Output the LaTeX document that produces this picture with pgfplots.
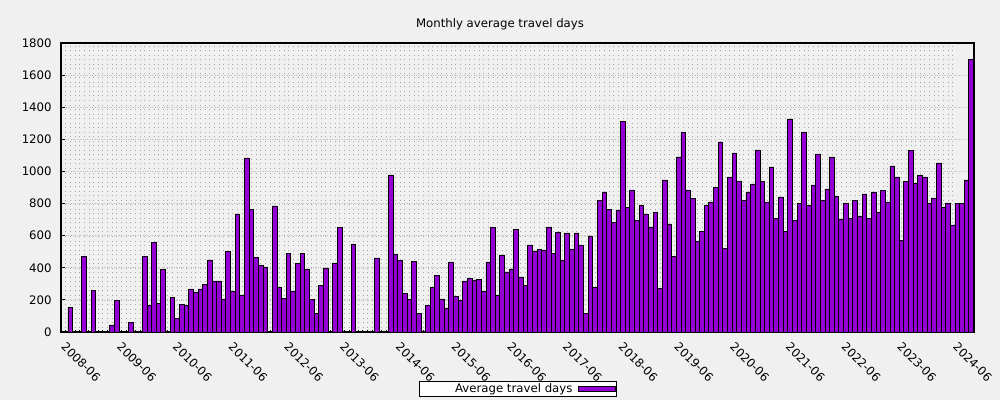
\documentclass[border=0pt]{standalone}
\usepackage{pgfplots}
\pgfplotsset{compat=1.18}
\usepackage{pgfplotstable}
\usepackage{fontspec}
\setmainfont{DejaVu Sans}
\definecolor{bgcol}{HTML}{F0F0F0}
\definecolor{barcol}{HTML}{9400D3}
\definecolor{gridcol}{HTML}{A8A8A8}

% k = months since 2008-08 (k=-2 is 2008-06)
\pgfplotstableread{
k v
0 152
1 0
2 0
3 469
4 0
5 258
6 0
7 0
8 0
9 44
10 195
11 0
12 0
13 58
14 0
15 0
16 469
17 164
18 555
19 177
20 388
21 0
22 218
23 87
24 170
25 164
26 268
27 245
28 268
29 295
30 449
31 318
32 318
33 206
34 500
35 251
36 735
37 231
38 1084
39 766
40 463
41 413
42 405
43 0
44 785
45 280
46 210
47 492
48 255
49 426
50 492
51 388
52 201
53 114
54 289
55 399
56 0
57 430
58 650
59 0
60 0
61 548
62 0
63 0
64 0
65 0
66 461
67 0
68 0
69 978
70 486
71 447
72 239
73 204
74 442
75 118
76 0
77 168
78 280
79 355
80 206
81 150
82 436
83 224
84 195
85 318
86 336
87 324
88 330
89 255
90 436
91 652
92 231
93 480
94 374
95 393
96 636
97 343
98 289
99 542
100 505
101 515
102 511
103 654
104 492
105 623
106 447
107 617
108 517
109 617
110 542
111 118
112 598
113 280
114 822
115 872
116 766
117 685
118 760
119 1309
120 773
121 885
122 692
123 791
124 735
125 654
126 748
127 274
128 947
129 673
130 469
131 1090
132 1246
133 885
134 831
135 567
136 629
137 791
138 810
139 903
140 1184
141 523
142 966
143 1115
144 941
145 822
146 872
147 922
148 1134
149 935
150 810
151 1028
152 710
153 841
154 629
155 1327
156 692
157 798
158 1246
159 791
160 916
161 1109
162 822
163 891
164 1090
165 847
166 704
167 804
168 710
169 822
170 723
171 860
172 710
173 872
174 748
175 879
176 810
177 1034
178 966
179 573
180 935
181 1128
182 928
183 978
184 966
185 804
186 835
187 1053
188 773
189 804
190 667
191 798
192 798
193 947
194 1695
}\datatable

\begin{document}
\begin{tikzpicture}[font=\fontsize{8.8pt}{10.5pt}\selectfont]
\fill[bgcol] (-45.75pt,-51pt) rectangle (704.25pt,249pt);
\begin{axis}[
  scale only axis, width=684.75pt, height=216.75pt,
  xmin=-2, xmax=194.6, ymin=0, ymax=1800,
  axis background/.style={fill=bgcol},
  axis line style={black, line width=0.8pt},
  ybar, bar width=1,
  ytick={0,200,...,1800},
  xtick={-2,10,...,190},
  xticklabels={2008-06,2009-06,2010-06,2011-06,2012-06,2013-06,2014-06,2015-06,2016-06,2017-06,2018-06,2019-06,2020-06,2021-06,2022-06,2023-06,2024-06},
  minor x tick num=11,
  xtick pos=left, ytick pos=both,
  tick align=inside,
  major tick length=3pt, minor tick length=1.5pt,
  tick style={black, line width=0.6pt},
  xmajorgrids, xminorgrids, ymajorgrids,
  major grid style={gridcol, line width=0.5pt, dash pattern=on 0.6pt off 2.8pt},
  minor grid style={gridcol, line width=0.5pt, dash pattern=on 0.6pt off 2.8pt},
  y grid style={gridcol!80, line width=0.5pt, dash pattern=on 0.6pt off 1.2pt},
  /pgf/number format/assume math mode=true,
  /pgf/number format/1000 sep={},
  tick label style={font=\fontsize{8.8pt}{10.5pt}\selectfont},
  yticklabel style={xshift=-3.5pt},
  xticklabel style={rotate=-45, anchor=north west, inner sep=1pt, yshift=-0.8pt, xshift=7pt},
  every axis title shift=0pt,
  title={Monthly average travel days},
  title style={at={(axis description cs:0.4808,1.066)}, anchor=center, font=\fontsize{8.8pt}{10.5pt}\selectfont},
  legend style={at={(axis description cs:0.5,-0.197)}, anchor=center, draw=black, fill=white, line width=0.6pt, inner sep=0pt, nodes={inner sep=1pt, text height=7pt, text depth=1.8pt}, font=\fontsize{8.8pt}{10.5pt}\selectfont},
  legend plot pos=right,
  legend image code/.code={\draw[fill=barcol,draw=black,line width=0.6pt] (0pt,-2pt) rectangle (28pt,2pt);},
]
\addplot[fill=barcol, draw=black, line width=0.6pt] table[x=k, y=v] {\datatable};
\addlegendentry{\hspace*{26pt}Average travel days\hspace*{3pt}}
\end{axis}
\pgfresetboundingbox
\path[use as bounding box] (-45.75pt,-51pt) rectangle (704.25pt,249pt);
\end{tikzpicture}
\end{document}
